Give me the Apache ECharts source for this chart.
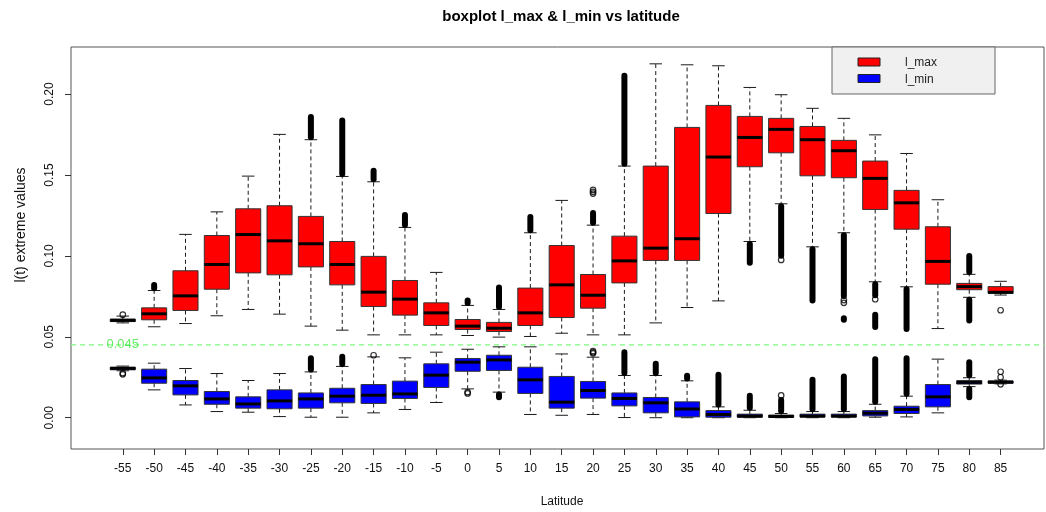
<!DOCTYPE html>
<html>
<head>
<meta charset="utf-8">
<script src="https://cdn.jsdelivr.net/npm/echarts@6/dist/echarts.min.js"></script>
<style>
  html, body { margin: 0; padding: 0; background: #ffffff; }
  #chart { width: 1046px; height: 512px; }
</style>
</head>
<body>
<div id="chart"></div>
<script>
// Latitude bands (degrees)
const latitudes = [-55, -50, -45, -40, -35, -30, -25, -20, -15, -10, -5, 0, 5, 10, 15, 20, 25, 30, 35, 40, 45, 50, 55, 60, 65, 70, 75, 80, 85];

// Five-number summaries per band: [lower whisker, Q1, median, Q3, upper whisker]
const lMaxStats = [
  [0.0586, 0.0594, 0.0602, 0.0609, 0.0628],
  [0.0562, 0.0605, 0.0642, 0.0679, 0.0786],
  [0.0582, 0.0663, 0.0753, 0.0908, 0.1133],
  [0.0630, 0.0794, 0.0947, 0.1126, 0.1272],
  [0.0669, 0.0895, 0.1132, 0.1291, 0.1493],
  [0.0640, 0.0883, 0.1093, 0.1310, 0.1751],
  [0.0566, 0.0932, 0.1075, 0.1244, 0.1718],
  [0.0541, 0.0821, 0.0947, 0.1089, 0.1491],
  [0.0512, 0.0687, 0.0776, 0.0997, 0.1458],
  [0.0512, 0.0634, 0.0733, 0.0848, 0.1176],
  [0.0512, 0.0570, 0.0648, 0.0710, 0.0898],
  [0.0508, 0.0545, 0.0566, 0.0607, 0.0694],
  [0.0498, 0.0533, 0.0553, 0.0589, 0.0669],
  [0.0502, 0.0570, 0.0648, 0.0801, 0.1143],
  [0.0522, 0.0619, 0.0821, 0.1064, 0.1343],
  [0.0512, 0.0677, 0.0757, 0.0885, 0.1190],
  [0.0512, 0.0833, 0.0969, 0.1122, 0.1555],
  [0.0586, 0.0972, 0.1048, 0.1555, 0.2187],
  [0.0681, 0.0972, 0.1106, 0.1794, 0.2181],
  [0.0722, 0.1262, 0.1611, 0.1930, 0.2175],
  [0.1089, 0.1551, 0.1732, 0.1862, 0.2041],
  [0.1322, 0.1637, 0.1782, 0.1850, 0.1996],
  [0.1056, 0.1495, 0.1718, 0.1800, 0.1912],
  [0.1143, 0.1483, 0.1650, 0.1714, 0.1850],
  [0.0840, 0.1287, 0.1479, 0.1586, 0.1748],
  [0.0809, 0.1165, 0.1328, 0.1405, 0.1633],
  [0.0551, 0.0825, 0.0966, 0.1180, 0.1347],
  [0.0744, 0.0791, 0.0810, 0.0830, 0.0886],
  [0.0758, 0.0769, 0.0775, 0.0810, 0.0843]
];

const lMinStats = [
  [0.0290, 0.0296, 0.0305, 0.0312, 0.0319],
  [0.0172, 0.0213, 0.0246, 0.0300, 0.0337],
  [0.0079, 0.0141, 0.0197, 0.0230, 0.0304],
  [0.0038, 0.0083, 0.0116, 0.0162, 0.0273],
  [0.0034, 0.0059, 0.0085, 0.0129, 0.0230],
  [0.0007, 0.0055, 0.0104, 0.0172, 0.0273],
  [0.0003, 0.0059, 0.0116, 0.0153, 0.0283],
  [0.0003, 0.0092, 0.0133, 0.0182, 0.0317],
  [0.0030, 0.0088, 0.0139, 0.0205, 0.0376],
  [0.0051, 0.0119, 0.0147, 0.0226, 0.0370],
  [0.0094, 0.0187, 0.0263, 0.0333, 0.0405],
  [0.0178, 0.0287, 0.0343, 0.0366, 0.0423],
  [0.0158, 0.0292, 0.0357, 0.0386, 0.0438],
  [0.0020, 0.0150, 0.0234, 0.0312, 0.0438],
  [0.0015, 0.0059, 0.0096, 0.0255, 0.0394],
  [0.0020, 0.0121, 0.0168, 0.0224, 0.0374],
  [0.0001, 0.0073, 0.0119, 0.0153, 0.0261],
  [0.0000, 0.0030, 0.0092, 0.0125, 0.0261],
  [0.0000, 0.0005, 0.0054, 0.0098, 0.0228],
  [0.0000, 0.0003, 0.0020, 0.0044, 0.0067],
  [0.0000, 0.0003, 0.0010, 0.0022, 0.0046],
  [0.0000, 0.0002, 0.0008, 0.0016, 0.0026],
  [0.0000, 0.0004, 0.0010, 0.0022, 0.0038],
  [0.0000, 0.0004, 0.0010, 0.0022, 0.0038],
  [0.0003, 0.0011, 0.0028, 0.0044, 0.0083],
  [0.0005, 0.0026, 0.0051, 0.0071, 0.0133],
  [0.0030, 0.0067, 0.0129, 0.0205, 0.0362],
  [0.0192, 0.0208, 0.0219, 0.0229, 0.0247],
  [0.0209, 0.0213, 0.0220, 0.0227, 0.0232]
];

// Runs of closely packed outliers: [latitude, lowest outlier, highest outlier]
const lMaxOutlierRuns = [
  [-50, 0.0800, 0.0820], [-25, 0.1733, 0.1858], [-20, 0.1506, 0.1836],
  [-15, 0.1473, 0.1526], [-10, 0.1191, 0.1252], [0, 0.0709, 0.0725],
  [5, 0.0684, 0.0805], [10, 0.1158, 0.1240], [20, 0.1205, 0.1265],
  [25, 0.1570, 0.2114], [45, 0.0957, 0.1074], [50, 0.1001, 0.1307],
  [55, 0.0724, 0.1041], [60, 0.0752, 0.1128], [60, 0.0605, 0.0615],
  [65, 0.0757, 0.0825], [65, 0.0560, 0.0636], [70, 0.0548, 0.0794],
  [80, 0.0901, 0.1000], [80, 0.0601, 0.0729]
];
const lMinOutlierRuns = [
  [-25, 0.0298, 0.0368], [-20, 0.0332, 0.0376], [5, 0.0127, 0.0143],
  [25, 0.0276, 0.0405], [30, 0.0276, 0.0333], [35, 0.0243, 0.0259],
  [40, 0.0082, 0.0265], [45, 0.0061, 0.0135], [50, 0.0041, 0.0110],
  [55, 0.0053, 0.0234], [60, 0.0053, 0.0255], [65, 0.0098, 0.0362],
  [70, 0.0148, 0.0368], [80, 0.0262, 0.0343], [80, 0.0127, 0.0177]
];

// Single outliers: [latitude, value]
const lMaxOutliers = [
  [-55, 0.0637], [20, 0.1385], [20, 0.1396], [20, 0.1408], [50, 0.0975],
  [60, 0.0727], [60, 0.0710], [65, 0.0732], [85, 0.0664]
];
const lMinOutliers = [
  [-55, 0.0268], [-55, 0.0275], [-15, 0.0386], [0, 0.0158], [0, 0.0150],
  [20, 0.0398], [20, 0.0404], [20, 0.0411], [50, 0.0138],
  [85, 0.0284], [85, 0.0250], [85, 0.0206]
];

const threshold = 0.045;
const yTicks = [0, 0.05, 0.10, 0.15, 0.20];

const FONT = '"Liberation Sans", Arial, sans-serif';

function rowsWithLatitude(stats) {
  return latitudes.map((lat, i) => [lat].concat(stats[i]));
}

// Box, dashed whiskers, staples and thick median for one band
function drawBox(fill) {
  return function (params, api) {
    const lat = api.value(0);
    const lo = api.value(1), q1 = api.value(2), med = api.value(3), q3 = api.value(4), hi = api.value(5);
    const half = api.size([4, 0])[0] / 2;   // box spans 4 of the 5 degrees between bands
    const staple = half / 2;
    const x = api.coord([lat, 0])[0];
    const y = v => api.coord([lat, v])[1];
    const whisker = { stroke: '#1a1a1a', lineWidth: 1, lineDash: [4, 3] };
    const solid = { stroke: '#1a1a1a', lineWidth: 1 };
    return {
      type: 'group',
      children: [
        { type: 'line', shape: { x1: x, y1: y(q3), x2: x, y2: y(hi) }, style: whisker },
        { type: 'line', shape: { x1: x, y1: y(q1), x2: x, y2: y(lo) }, style: whisker },
        { type: 'line', shape: { x1: x - staple, y1: y(hi), x2: x + staple, y2: y(hi) }, style: solid },
        { type: 'line', shape: { x1: x - staple, y1: y(lo), x2: x + staple, y2: y(lo) }, style: solid },
        { type: 'rect', shape: { x: x - half, y: y(q3), width: 2 * half, height: y(q1) - y(q3) },
          style: { fill: fill, stroke: '#333333', lineWidth: 1 } },
        { type: 'line', shape: { x1: x - half, y1: y(med), x2: x + half, y2: y(med) },
          style: { stroke: '#000000', lineWidth: 3 } }
      ]
    };
  };
}

// Packed outlier circles merge into a solid rounded bar
function drawRun(params, api) {
  const lat = api.value(0);
  const p1 = api.coord([lat, api.value(1)]);
  const p2 = api.coord([lat, api.value(2)]);
  return {
    type: 'line',
    shape: { x1: p1[0], y1: p1[1], x2: p2[0], y2: p2[1] },
    style: { stroke: '#000000', lineWidth: 6, lineCap: 'round' }
  };
}

// Horizontal reference level across the whole plotting frame
function drawLevel(params, api) {
  const cs = params.coordSys;
  const y = api.coord([0, api.value(1)])[1];
  return {
    type: 'line',
    shape: { x1: cs.x, y1: y, x2: cs.x + cs.width, y2: y },
    style: { stroke: '#7dfa7d', lineWidth: 1.3, lineDash: [5, 4] }
  };
}

function outlierScatter(name, data) {
  return {
    name: name, type: 'scatter', data: data, symbol: 'circle', symbolSize: 5.5,
    itemStyle: { color: 'rgba(255,255,255,0)', borderColor: '#000000', borderWidth: 1.2 },
    silent: true, z: 4
  };
}

const chart = echarts.init(document.getElementById('chart'), null, { renderer: 'canvas' });

chart.setOption({
  animation: false,
  backgroundColor: '#ffffff',
  textStyle: { fontFamily: FONT },
  grid: {
    left: 71, top: 47, right: 2, bottom: 63,
    show: true, borderColor: '#555555', borderWidth: 1, backgroundColor: 'transparent'
  },
  xAxis: {
    type: 'value', min: -63.26, max: 91.92,
    axisLine: { show: false, onZero: false },
    splitLine: { show: false },
    axisTick: { show: true, length: 6, customValues: latitudes, lineStyle: { color: '#333333' } },
    axisLabel: { customValues: latitudes, margin: 14, fontSize: 12, color: '#111111', fontFamily: FONT }
  },
  yAxis: {
    type: 'value', min: -0.01934, max: 0.2291,
    axisLine: { show: false, onZero: false },
    splitLine: { show: false },
    axisTick: { show: true, length: 6, customValues: yTicks, lineStyle: { color: '#333333' } },
    axisLabel: {
      customValues: yTicks, rotate: 90, margin: 15, fontSize: 12, color: '#111111', fontFamily: FONT,
      formatter: v => v.toFixed(2)
    }
  },
  graphic: [
    { type: 'text', x: 561, y: 17,
      style: { text: 'boxplot l_max & l_min vs latitude', font: 'bold 15px ' + FONT, fill: '#000000', align: 'center', verticalAlign: 'middle' } },
    { type: 'text', x: 562, y: 502,
      style: { text: 'Latitude', font: '12px ' + FONT, fill: '#111111', align: 'center', verticalAlign: 'middle' } },
    { type: 'text', x: 21, y: 225, rotation: Math.PI / 2,
      style: { text: 'l(t) extreme values', font: '14px ' + FONT, fill: '#111111', align: 'center', verticalAlign: 'middle' } },
    {
      type: 'group', x: 832, y: 47, z: 100,
      children: [
        { type: 'rect', shape: { x: 0, y: 0, width: 163, height: 47 }, style: { fill: '#f0f0f0', stroke: '#666666', lineWidth: 1 } },
        { type: 'rect', shape: { x: 26, y: 11, width: 22, height: 8 }, style: { fill: '#ff0000', stroke: '#222222', lineWidth: 1 } },
        { type: 'rect', shape: { x: 26, y: 27.5, width: 22, height: 8 }, style: { fill: '#0000ff', stroke: '#222222', lineWidth: 1 } },
        { type: 'text', x: 73, y: 16, style: { text: 'l_max', font: '12px ' + FONT, fill: '#222222', verticalAlign: 'middle' } },
        { type: 'text', x: 73, y: 32.5, style: { text: 'l_min', font: '12px ' + FONT, fill: '#222222', verticalAlign: 'middle' } }
      ]
    }
  ],
  series: [
    {
      name: 'level', type: 'custom', renderItem: drawLevel,
      data: [[latitudes[0], threshold]], encode: { x: 0, y: 1 }, z: 2, silent: true
    },
    {
      name: 'l_max', type: 'custom', renderItem: drawBox('#ff0000'),
      data: rowsWithLatitude(lMaxStats), encode: { x: 0, y: [1, 2, 3, 4, 5] }, z: 3, silent: true
    },
    { name: 'l_max outliers', type: 'custom', renderItem: drawRun, data: lMaxOutlierRuns, encode: { x: 0, y: [1, 2] }, z: 4, silent: true },
    outlierScatter('l_max single outliers', lMaxOutliers),
    {
      name: 'l_min', type: 'custom', renderItem: drawBox('#0000ff'),
      data: rowsWithLatitude(lMinStats), encode: { x: 0, y: [1, 2, 3, 4, 5] }, z: 3, silent: true
    },
    { name: 'l_min outliers', type: 'custom', renderItem: drawRun, data: lMinOutlierRuns, encode: { x: 0, y: [1, 2] }, z: 4, silent: true },
    outlierScatter('l_min single outliers', lMinOutliers),
    {
      name: 'level label', type: 'scatter', z: 6, silent: true,
      data: [[latitudes[0], threshold]],
      symbolSize: 1, itemStyle: { color: 'rgba(0,0,0,0)' },
      label: {
        show: true, position: 'inside', formatter: () => String(threshold),
        color: '#3ee83e', fontSize: 13, fontFamily: FONT
      }
    }
  ]
});
</script>
</body>
</html>
